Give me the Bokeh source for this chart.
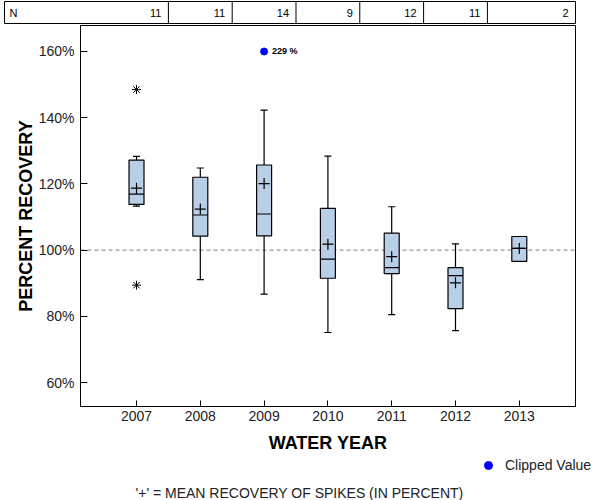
from bokeh.plotting import figure
from bokeh.layouts import column
from bokeh.models import (Range1d, FixedTicker, PrintfTickFormatter, Span, Label,
                          ColumnDataSource, Legend, LegendItem)
from bokeh.core.properties import value
from bokeh.embed import file_html
from bokeh.resources import INLINE

# ---------------- data ----------------
years = [2007, 2008, 2009, 2010, 2011, 2012, 2013]
n_counts = [11, 11, 14, 9, 12, 11, 2]
whisker_high = [128.3, 124.8, 142.3, 128.4, 113.1, 101.9, 104.1]
q3 = [127.2, 122.0, 125.7, 112.6, 105.1, 94.7, 104.1]
median = [116.9, 110.6, 110.9, 97.3, 94.7, 92.3, 100.5]
q1 = [113.8, 104.2, 104.3, 91.5, 92.9, 82.3, 96.6]
whisker_low = [113.3, 91.1, 86.7, 75.1, 80.5, 75.7, 96.6]
means = [118.7, 112.4, 120.1, 101.8, 98.0, 90.1, 100.5]
outlier_years = [2007, 2007]
outlier_values = [148.5, 89.4]
clipped_years = [2009]
clipped_plot_values = [160]
clipped_labels = ["229 %"]
y_ticks = [60, 80, 100, 120, 140, 160]

FONT = "Liberation Sans"
W = 596
BOX_W = 0.235
CAP_W = 0.11
X0, X1 = 2006.122, 2013.881

# ---------------- N table ----------------
t = figure(width=W, height=24, x_range=Range1d(2004.931, X1), y_range=Range1d(0, 1),
           output_backend="svg", toolbar_location=None,
           x_axis_location=None, y_axis_location=None,
           min_border_left=4, min_border_right=21, min_border_top=1, min_border_bottom=0,
           outline_line_color="black", outline_line_width=1, frame_align=False)
t.grid.visible = False
dividers = [y + 0.5 for y in years[:-1]]
t.segment(x0=dividers, y0=[0] * len(dividers), x1=dividers, y1=[1] * len(dividers),
          line_color="black", line_width=1)
right_edges = dividers + [X1]
t.text(x=right_edges, y=[0.5] * len(years), text=[str(n) for n in n_counts],
       text_align="right", text_baseline="middle", x_offset=-7,
       text_font=value(FONT), text_font_size="11px", text_color="black")
t.add_layout(Label(x=2004.931, y=0.5, text="N", x_offset=5, text_baseline="middle",
                   text_font=FONT, text_font_size="11px", text_color="black"))

# ---------------- main plot ----------------
p = figure(width=W, height=431, x_range=Range1d(X0, X1), y_range=Range1d(52.75, 167.85),
           output_backend="svg", toolbar_location=None,
           min_border_left=80, min_border_right=21, min_border_top=1, min_border_bottom=49,
           outline_line_color="black", outline_line_width=1, frame_align=False)
p.grid.visible = False

p.add_layout(Span(location=100, dimension="width", line_color="#808080",
                  line_dash="4 3", line_width=1, level="underlay"))

src = ColumnDataSource(dict(
    x=years, wh=whisker_high, q3=q3, med=median, q1=q1, wl=whisker_low, mean=means,
    bl=[y - BOX_W / 2 for y in years], br=[y + BOX_W / 2 for y in years],
    cl=[y - CAP_W / 2 for y in years], cr=[y + CAP_W / 2 for y in years],
))
# whiskers
p.segment(x0="x", y0="q3", x1="x", y1="wh", source=src, line_color="black", line_width=1.2)
p.segment(x0="x", y0="q1", x1="x", y1="wl", source=src, line_color="black", line_width=1.2)
p.segment(x0="cl", y0="wh", x1="cr", y1="wh", source=src, line_color="black", line_width=1.2)
p.segment(x0="cl", y0="wl", x1="cr", y1="wl", source=src, line_color="black", line_width=1.2)
# boxes
p.vbar(x="x", width=BOX_W, top="q3", bottom="q1", source=src,
       fill_color="#b9cfe7", line_color="black", line_width=1.2)
p.segment(x0="bl", y0="med", x1="br", y1="med", source=src, line_color="black", line_width=1.2)
# means
p.scatter(x="x", y="mean", source=src, marker="cross", size=11, line_color="black", line_width=1.2)
# outliers
p.scatter(x=outlier_years, y=outlier_values, marker="asterisk", size=9,
          line_color="black", line_width=1)
# clipped value
p.scatter(x=clipped_years, y=clipped_plot_values, marker="circle", size=7,
          fill_color="#0000ff", line_color="#0000ff")
p.text(x=clipped_years, y=clipped_plot_values, text=clipped_labels, x_offset=8,
       text_baseline="middle", text_font=value(FONT), text_font_size="9px",
       text_font_style="bold", text_color="black")

# axes
p.xaxis.ticker = FixedTicker(ticks=years)
p.yaxis.ticker = FixedTicker(ticks=y_ticks)
p.yaxis.formatter = PrintfTickFormatter(format="%d%%")
for ax in (p.xaxis[0], p.yaxis[0]):
    ax.major_tick_out = 0
    ax.minor_tick_line_color = None
    ax.axis_line_color = "black"
    ax.major_tick_line_color = "black"
    ax.major_label_text_font = FONT
    ax.major_label_text_font_size = "14px"
    ax.major_label_text_color = "#222222"
    ax.axis_label_text_font = FONT
    ax.axis_label_text_font_size = "18px"
    ax.axis_label_text_font_style = "bold"
    ax.axis_label_text_color = "black"
p.xaxis.major_tick_in = 6
p.yaxis.major_tick_in = 7
p.xaxis.major_label_standoff = 4
p.yaxis.major_label_standoff = 6
p.xaxis.axis_label = "WATER YEAR"
p.yaxis.axis_label = "PERCENT RECOVERY"
p.xaxis.axis_label_standoff = 9
p.yaxis.axis_label_standoff = 0

# ---------------- legend + footnote strip ----------------
f = figure(width=W, height=45, x_range=Range1d(0, W), y_range=Range1d(45, 0),
           output_backend="svg", toolbar_location=None,
           x_axis_location=None, y_axis_location=None,
           min_border_left=0, min_border_right=0, min_border_top=0, min_border_bottom=0,
           outline_line_color=None, frame_align=False)
f.grid.visible = False
# legend key renderer: its point lies outside this strip's ranges, only the key shows
key_r = f.scatter(x=[-1000], y=[-1000], marker="circle", size=9,
                  fill_color="#0000ff", line_color="#0000ff")
legend = Legend(items=[LegendItem(label="Clipped Value", renderers=[key_r])],
                location=(478, 25), glyph_width=20, glyph_height=20, label_standoff=7,
                label_height=20, padding=0, margin=0, border_line_color=None,
                background_fill_alpha=0, label_text_font=FONT, label_text_font_size="14px",
                label_text_color="#222222")
f.add_layout(legend, "center")
f.add_layout(Label(x=299, y=37, text="'+' = MEAN RECOVERY OF SPIKES (IN PERCENT)",
                   text_align="center", text_baseline="middle", text_font=FONT,
                   text_font_size="14px", text_color="#222222"))

layout = column(t, p, f, spacing=0)
open("out.html", "w").write(file_html(layout, INLINE))
